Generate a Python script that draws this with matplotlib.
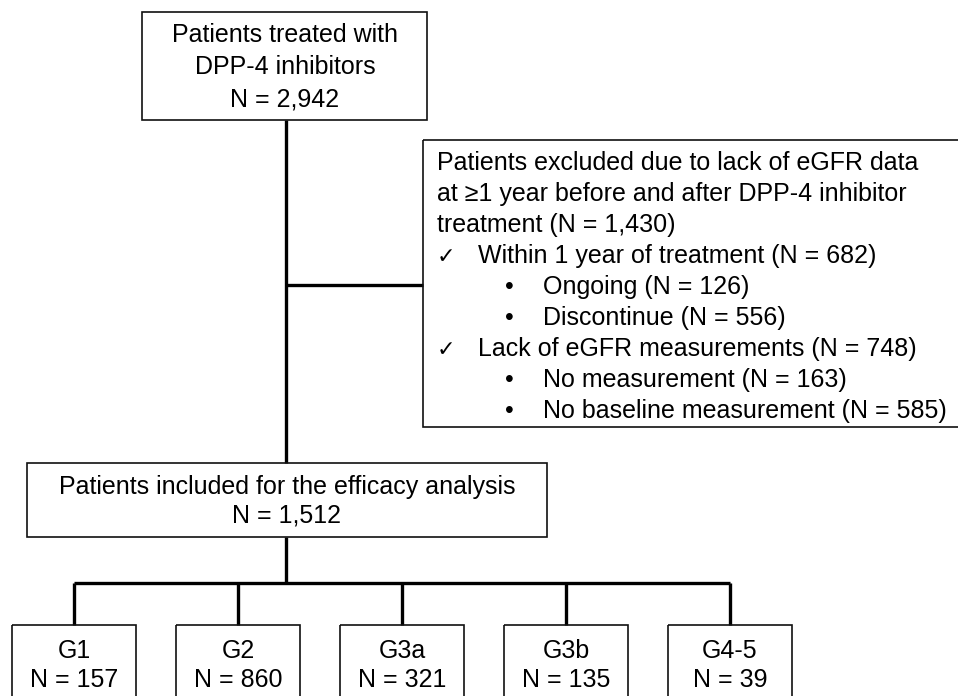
import matplotlib
matplotlib.use('Agg')
import matplotlib.pyplot as plt
from matplotlib.patches import Rectangle

plt.rcParams['font.family'] = ['Liberation Sans', 'DejaVu Sans']
SIZE = 18

### data
top_lines = ['Patients treated with', 'DPP-4 inhibitors', 'N = 2,942']
excl_head = ['Patients excluded due to lack of eGFR data',
             'at \u22651 year before and after DPP-4 inhibitor',
             'treatment (N = 1,430)']
excl_reasons = ['Within 1 year of treatment (N = 682)',
                'Lack of eGFR measurements (N = 748)']
excl_sub = [['Ongoing (N = 126)', 'Discontinue (N = 556)'],
            ['No measurement (N = 163)', 'No baseline measurement (N = 585)']]
incl_lines = ['Patients included for the efficacy analysis', 'N = 1,512']
groups = ['G1', 'G2', 'G3a', 'G3b', 'G4-5']
group_n = [157, 860, 321, 135, 39]

### figure in pixel coords
fig = plt.figure(figsize=(9.58, 6.96), dpi=100)
ax = fig.add_axes([0, 0, 1, 1])
ax.set_xlim(0, 958)
ax.set_ylim(696, 0)
ax.axis('off')

BOX_LW = 1.2
CONN_LW = 2.4


def box(x0, y0, x1, y1):
    ax.add_patch(Rectangle((x0, y0), x1 - x0, y1 - y0, fill=False,
                           edgecolor='#111111', linewidth=BOX_LW, zorder=3))


def conn(xs, ys):
    ax.plot(xs, ys, color='black', linewidth=CONN_LW, solid_capstyle='butt', zorder=2)


# top box
box(142, 12, 427, 120)
for i, s in enumerate(top_lines):
    ax.text(285, 42 + i * 32, s, ha='center', va='baseline', fontsize=SIZE)

# exclusion box
box(423, 140, 970, 427)
y = 170
step = 31
for s in excl_head:
    ax.text(437, y, s, ha='left', va='baseline', fontsize=SIZE)
    y += step
for reason, subs in zip(excl_reasons, excl_sub):
    ax.text(437, y, '\u2713', ha='left', va='baseline', fontsize=SIZE - 2,
            family='DejaVu Sans')
    ax.text(478, y, reason, ha='left', va='baseline', fontsize=SIZE)
    y += step
    for sub in subs:
        ax.text(505, y, '\u2022', ha='left', va='baseline', fontsize=SIZE)
        ax.text(543, y, sub, ha='left', va='baseline', fontsize=SIZE)
        y += step

# included box
box(27, 463, 547, 537)
ax.text(287, 494, incl_lines[0], ha='center', va='baseline', fontsize=SIZE)
ax.text(287, 523, incl_lines[1], ha='center', va='baseline', fontsize=SIZE)

# connectors
conn([286, 286], [120, 463])
conn([286, 423], [285, 285])
conn([286, 286], [537, 583])

# group boxes
centers = [74 + 164 * i for i in range(len(groups))]
conn([centers[0], centers[-1]], [583, 583])
for cx, g, n in zip(centers, groups, group_n):
    conn([cx, cx], [583, 625])
    box(cx - 62, 625, cx + 62, 720)
    ax.text(cx, 658, g, ha='center', va='baseline', fontsize=SIZE)
    ax.text(cx, 687, 'N = %d' % n, ha='center', va='baseline', fontsize=SIZE)

fig.savefig('out.png', dpi=100)
